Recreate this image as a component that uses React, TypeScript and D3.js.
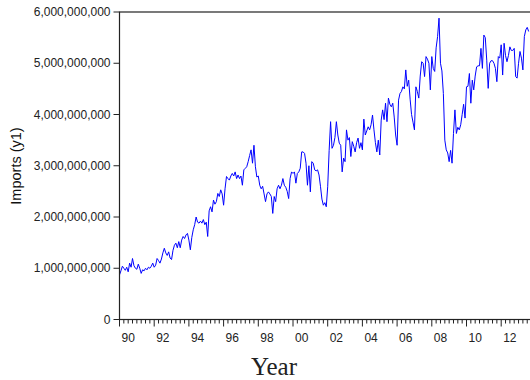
import * as d3 from "d3";
import React from "react";

// monthly imports, billions, starting Jan 1990
const startYear = 1990;
const imports = [
  // 1990
  0.87, 0.95, 1.04, 1.0, 0.96, 1.02, 0.93, 1.1, 1.02, 1.19, 1.05, 1.0,
  // 1991
  0.98, 1.08, 1.0, 0.9, 0.97, 0.95, 1.0, 0.97, 1.02, 1.0, 1.04, 1.1,
  // 1992
  1.02, 1.06, 1.19, 1.15, 1.1, 1.18, 1.3, 1.39, 1.3, 1.25, 1.32, 1.2,
  // 1993
  1.17, 1.35, 1.45, 1.49, 1.4, 1.52, 1.4, 1.55, 1.62, 1.58, 1.65, 1.68,
  // 1994
  1.55, 1.36, 1.6, 1.75, 1.85, 2.0, 1.9, 1.88, 1.92, 1.88, 1.95, 1.85,
  // 1995
  1.9, 1.62, 2.12, 2.2, 2.1, 2.33, 2.25, 2.3, 2.46, 2.4, 2.53, 2.45,
  // 1996
  2.23, 2.55, 2.79, 2.75, 2.72, 2.8, 2.85, 2.8, 2.88, 2.75, 2.82, 2.75,
  // 1997
  2.8, 2.62, 2.92, 2.95, 2.98, 3.08, 3.2, 3.31, 3.05, 3.4, 2.98, 2.78,
  // 1998
  2.8, 2.62, 2.55, 2.6, 2.45, 2.3, 2.45, 2.49, 2.45, 2.4, 2.07, 2.4,
  // 1999
  2.3, 2.55, 2.62, 2.55, 2.62, 2.75, 2.62, 2.58, 2.5, 2.36, 2.75, 2.88,
  // 2000
  2.85, 2.88, 2.66, 2.85, 2.88, 2.95, 3.27, 3.27, 3.24, 3.05, 2.62, 3.0,
  // 2001
  2.49, 3.08, 3.05, 2.92, 2.9, 2.92, 2.82, 2.6, 2.35, 2.23, 2.28, 2.2,
  // 2002
  2.59, 3.3, 3.86, 3.34, 3.4, 3.55, 3.86, 3.6, 3.44, 3.4, 2.88, 3.15,
  // 2003
  3.08, 3.7, 3.5, 3.55, 3.18, 3.47, 3.38, 3.27, 3.45, 3.54, 3.34, 3.45,
  // 2004
  3.31, 3.91, 3.6, 3.68, 3.76, 3.7, 3.8, 3.99, 3.7, 3.45, 3.27, 3.5,
  // 2005
  3.21, 3.89, 4.09, 3.9, 4.22, 3.86, 4.32, 4.2, 4.15, 4.22, 3.95, 3.6,
  // 2006
  3.4, 4.28, 4.41, 4.45, 4.54, 4.5, 4.87, 4.55, 4.67, 4.3, 4.0, 3.85,
  // 2007
  3.7, 4.54, 4.45, 4.32, 4.75, 5.03, 5.0, 4.74, 5.13, 5.08, 5.0, 4.48,
  // 2008
  5.13, 4.9, 4.84, 5.3, 5.52, 5.88, 5.0, 4.85, 4.41, 3.5, 3.31, 3.25,
  // 2009
  3.08, 3.3, 3.05, 3.63, 4.09, 3.63, 3.75, 3.7, 3.8, 4.0, 4.2, 3.93,
  // 2010
  4.54, 4.55, 4.8, 4.22, 4.67, 4.48, 4.75, 4.93, 4.95, 4.95, 5.29, 4.9,
  // 2011
  5.55, 5.5, 5.06, 4.51, 5.0, 5.05, 5.05, 5.0, 4.9, 4.64, 5.13, 5.1,
  // 2012
  5.36, 4.77, 5.39, 5.15, 5.03, 5.15, 5.32, 5.25, 5.25, 5.29, 4.74, 4.71,
  // 2013
  5.0, 5.23, 5.1, 4.87, 5.52, 5.65, 5.7, 5.62,
];

const yTicks = [0, 1, 2, 3, 4, 5, 6];
const yearTicks = [1990, 1992, 1994, 1996, 1998, 2000, 2002, 2004, 2006, 2008, 2010, 2012];

export default function App() {
  const width = 530;
  const height = 380;
  const left = 119.5;
  const top = 12;
  const bottom = 319.5;
  const perYear = 17.35;

  const x = d3.scaleLinear().domain([1990, 2014]).range([left, left + 24 * perYear]);
  const y = d3.scaleLinear().domain([0, 6]).range([bottom, top]);

  const line = d3
    .line<number>()
    .x((d, i) => x(startYear + i / 12))
    .y((d) => y(d));

  const quarters = d3.range(1990, 2014.01, 0.25);
  const fmt = d3.format(",");

  return (
    <svg
      width={width}
      height={height}
      style={{ position: "absolute", left: 0, top: 0, background: "#fff" }}
      fontFamily="'Liberation Sans', Arial, sans-serif"
    >
      <defs>
        <clipPath id="plot">
          <rect x={left} y={top - 2} width={x(2014) - left} height={bottom - top + 2} />
        </clipPath>
      </defs>

      <path
        d={line(imports) ?? ""}
        fill="none"
        stroke="#0000ff"
        strokeWidth="1"
        clipPath="url(#plot)"
      />

      <g stroke="#222" strokeWidth="1.2" fill="none">
        <rect x={left} y={top} width={x(2014) - left} height={bottom - top} />
      </g>

      {yTicks.map((t) => (
        <g key={t}>
          <line x1={left - 6} x2={left} y1={y(t)} y2={y(t)} stroke="#222" />
          <text
            x={left - 9}
            y={y(t)}
            textAnchor="end"
            dominantBaseline="central"
            fontSize="12"
            fill="#222"
          >
            {fmt(t * 1e9)}
          </text>
        </g>
      ))}

      {quarters.map((q) => {
        const major = Math.abs(q - Math.round(q / 2) * 2) < 1e-6;
        return (
          <line
            key={q}
            x1={x(q)}
            x2={x(q)}
            y1={bottom}
            y2={bottom + (major ? 7 : 4)}
            stroke="#222"
          />
        );
      })}

      {yearTicks.map((yr) => (
        <text
          key={yr}
          x={x(yr + 0.5)}
          y={bottom + 22}
          textAnchor="middle"
          fontSize="12"
          fill="#222"
        >
          {String(yr).slice(2)}
        </text>
      ))}

      <text
        transform={`translate(21, 166) rotate(-90)`}
        textAnchor="middle"
        fontSize="14.5"
        fill="#111"
      >
        Imports (y1)
      </text>

      <text
        x={274}
        y={375}
        textAnchor="middle"
        fontSize="25"
        fontFamily="'Liberation Serif', 'Times New Roman', serif"
        fill="#222"
      >
        Year
      </text>
    </svg>
  );
}
